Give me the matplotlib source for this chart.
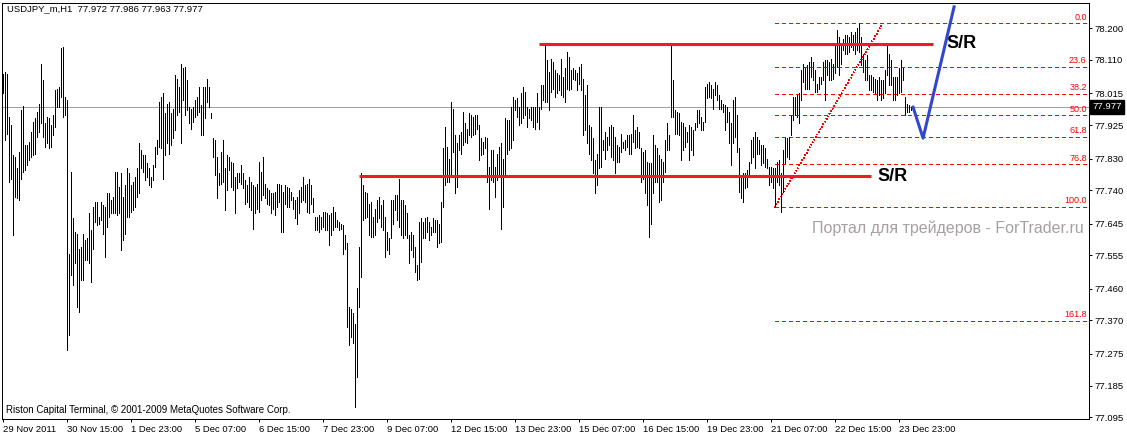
import matplotlib.pyplot as plt
import matplotlib.transforms as mtransforms

plt.rcParams['font.family'] = ['Liberation Sans', 'DejaVu Sans']

# USDJPY_m H1 bars, high / low per bar
highs = [
    78.070, 78.076, 78.070, 77.949, 77.925, 77.840, 77.835, 77.802, 77.849, 77.967,
    77.979, 77.868, 77.868, 77.878, 77.906, 77.934, 77.944, 77.963, 77.986, 78.100,
    78.053, 77.930, 77.949, 77.944, 77.925, 77.953, 78.024, 78.029, 78.034, 78.143,
    78.147, 78.005, 77.996, 77.560, 77.792, 77.660, 77.622, 77.617, 77.574, 77.579,
    77.617, 77.598, 77.603, 77.674, 77.627, 77.693, 77.707, 77.707, 77.664, 77.707,
    77.698, 77.693, 77.731, 77.731, 77.712, 77.721, 77.792, 77.792, 77.750, 77.788,
    77.721, 77.754, 77.802, 77.788, 77.754, 77.764, 77.778, 77.802, 77.873, 77.854,
    77.840, 77.840, 77.816, 77.802,
    77.778, 77.811, 77.863, 77.882, 77.991, 78.005, 78.015, 77.958, 77.986, 77.991,
    77.958, 77.972, 78.067, 78.057, 78.034, 78.100, 78.086, 78.091, 78.053, 77.977,
    77.972, 77.977, 77.996, 78.005, 78.034, 77.982, 78.034, 78.034, 78.057, 78.034,
    77.958, 77.887, 77.882, 77.835, 77.788, 77.849, 77.882, 77.802, 77.840, 77.835,
    77.821, 77.816, 77.778, 77.788, 77.788, 77.811, 77.788, 77.769, 77.754, 77.778,
    77.764, 77.754, 77.750, 77.759, 77.821, 77.792, 77.835, 77.759, 77.745, 77.740,
    77.731, 77.731, 77.735, 77.759, 77.759, 77.754, 77.735, 77.754, 77.750, 77.745,
    77.735, 77.721, 77.712, 77.721, 77.740, 77.750, 77.778, 77.754, 77.759, 77.773,
    77.754, 77.717, 77.664, 77.664, 77.669, 77.664, 77.679, 77.679, 77.674, 77.669,
    77.674, 77.693, 77.679, 77.655, 77.650, 77.645, 77.641, 77.612, 77.589, 77.409,
    77.404, 77.390, 77.361, 77.461, 77.579, 77.788, 77.754, 77.735, 77.731, 77.702,
    77.707, 77.664, 77.688, 77.712, 77.721, 77.698, 77.712, 77.664, 77.622, 77.603,
    77.712, 77.712, 77.726, 77.726, 77.773, 77.712, 77.712, 77.698, 77.674, 77.612,
    77.622, 77.612, 77.579, 77.527, 77.650, 77.660, 77.650, 77.660, 77.664, 77.650,
    77.636, 77.660, 77.655, 77.655, 77.645, 77.707, 77.859, 77.920, 77.863, 77.830,
    77.991, 77.972, 77.896, 77.873, 77.896,
    77.906, 77.963, 77.930, 77.915, 77.958, 77.953, 77.949, 77.953, 77.953, 77.925,
    77.887, 77.878, 77.892, 77.887, 77.807, 77.854, 77.854, 77.807, 77.844, 77.863,
    77.873, 77.830, 77.944, 77.939, 77.939, 77.977, 78.005, 77.996, 78.001, 77.977,
    78.015, 78.034, 78.020, 77.977, 77.972, 77.977, 77.977, 77.977, 78.015, 77.977,
    78.039, 78.039, 78.152, 78.110, 78.076, 78.114, 78.105, 78.081, 78.072, 78.067,
    78.114, 78.062, 78.086, 78.133, 78.119, 78.081, 78.086, 78.081, 78.072, 78.091,
    78.100, 78.057, 78.010, 78.039, 77.925, 77.920, 77.887, 77.825, 77.844, 77.977,
    77.977, 77.882, 77.906, 77.892, 77.920,
    77.925, 77.920, 77.892, 77.868, 77.863, 77.901, 77.878, 77.882, 77.896, 77.896,
    77.901, 77.953, 77.911, 77.920, 77.906, 77.859, 77.849, 77.854, 77.821, 77.816,
    77.816, 77.896, 77.868, 77.859, 77.840, 77.830, 77.821, 77.882, 77.930, 77.896,
    78.152, 78.053, 77.967, 77.963, 77.958, 77.934, 77.930, 77.920, 77.906, 77.925,
    77.920, 77.911, 77.930, 77.967, 77.967, 77.949, 77.934, 78.034, 78.043, 78.048,
    78.039, 78.029, 78.048, 78.039, 78.010, 77.996, 77.986, 77.982, 77.977, 77.963,
    77.930, 77.996, 78.005, 77.953, 77.859, 77.783, 77.788, 77.788, 77.797, 77.821,
    77.882, 77.892, 77.906, 77.892, 77.882,
    77.868, 77.868, 77.859, 77.830, 77.807, 77.807, 77.802, 77.802, 77.821, 77.825,
    77.788, 77.854, 77.887, 77.887, 77.892, 77.953, 78.005, 78.005, 78.010, 78.015,
    78.081, 78.100, 78.086, 78.095, 78.105, 78.119, 78.105, 78.081, 78.043, 78.062,
    78.062, 78.105, 78.110, 78.110, 78.105, 78.114, 78.100, 78.157, 78.195, 78.176,
    78.157, 78.171, 78.181, 78.181, 78.176, 78.190, 78.181, 78.190, 78.200, 78.214,
    78.176, 78.124, 78.110, 78.124, 78.067, 78.067, 78.062, 78.057, 78.053, 78.062,
    78.053, 78.053, 78.081, 78.152, 78.128, 78.110, 78.062, 78.062, 78.062, 78.086,
    78.110, 78.086, 78.005, 77.986, 77.982, 77.977,
]
lows = [
    78.015, 77.882, 77.901, 77.764, 77.773, 77.612, 77.721, 77.717, 77.712, 77.773,
    77.792, 77.797, 77.811, 77.825, 77.835, 77.840, 77.844, 77.892, 77.906, 77.930,
    77.892, 77.863, 77.873, 77.859, 77.863, 77.896, 77.920, 77.977, 77.977, 78.005,
    77.949, 77.953, 77.286, 77.328, 77.499, 77.470, 77.532, 77.409, 77.395, 77.485,
    77.485, 77.541, 77.541, 77.532, 77.480, 77.574, 77.650, 77.641, 77.645, 77.655,
    77.617, 77.551, 77.636, 77.664, 77.674, 77.674, 77.674, 77.669, 77.674, 77.570,
    77.598, 77.617, 77.664, 77.664, 77.679, 77.683, 77.693, 77.721, 77.731, 77.802,
    77.792, 77.769, 77.778, 77.754,
    77.750, 77.769, 77.807, 77.844, 77.863, 77.859, 77.773, 77.840, 77.873, 77.844,
    77.868, 77.887, 77.911, 77.953, 77.963, 77.873, 77.996, 77.953, 77.967, 77.930,
    77.915, 77.934, 77.949, 77.953, 77.963, 77.896, 77.896, 77.944, 77.991, 77.977,
    77.944, 77.835, 77.783, 77.717, 77.754, 77.759, 77.764, 77.683, 77.740, 77.797,
    77.750, 77.740, 77.674, 77.745, 77.764, 77.759, 77.745, 77.702, 77.707, 77.693,
    77.683, 77.631, 77.674, 77.688, 77.679, 77.712, 77.726, 77.717, 77.702, 77.698,
    77.674, 77.688, 77.669, 77.693, 77.707, 77.622, 77.622, 77.702, 77.693, 77.693,
    77.712, 77.688, 77.660, 77.645, 77.674, 77.707, 77.712, 77.707, 77.679, 77.674,
    77.702, 77.679, 77.627, 77.627, 77.622, 77.631, 77.636, 77.627, 77.627, 77.584,
    77.612, 77.627, 77.636, 77.636, 77.627, 77.631, 77.560, 77.574, 77.352, 77.300,
    77.324, 77.305, 77.125, 77.210, 77.409, 77.494, 77.655, 77.660, 77.664, 77.612,
    77.608, 77.608, 77.612, 77.650, 77.660, 77.636, 77.627, 77.551, 77.570, 77.560,
    77.603, 77.645, 77.683, 77.655, 77.636, 77.612, 77.603, 77.612, 77.603, 77.532,
    77.570, 77.551, 77.508, 77.485, 77.489, 77.537, 77.603, 77.603, 77.622, 77.598,
    77.612, 77.622, 77.622, 77.579, 77.589, 77.593, 77.693, 77.754, 77.764, 77.764,
    77.778, 77.849, 77.731, 77.750, 77.854,
    77.844, 77.868, 77.878, 77.873, 77.896, 77.892, 77.896, 77.901, 77.915, 77.825,
    77.840, 77.844, 77.859, 77.764, 77.688, 77.769, 77.764, 77.721, 77.769, 77.783,
    77.631, 77.693, 77.778, 77.844, 77.854, 77.859, 77.882, 77.967, 77.949, 77.925,
    77.930, 77.944, 77.953, 77.920, 77.944, 77.939, 77.920, 77.915, 77.934, 77.915,
    77.972, 77.996, 77.991, 77.991, 77.967, 78.020, 78.029, 78.005, 78.015, 78.024,
    78.010, 78.005, 77.991, 78.029, 78.024, 78.029, 78.057, 78.053, 78.024, 78.043,
    78.024, 77.896, 77.911, 77.873, 77.844, 77.825, 77.788, 77.731, 77.754, 77.802,
    77.807, 77.854, 77.830, 77.854, 77.868,
    77.835, 77.825, 77.788, 77.821, 77.821, 77.849, 77.859, 77.854, 77.863, 77.844,
    77.844, 77.878, 77.859, 77.863, 77.859, 77.764, 77.773, 77.731, 77.698, 77.608,
    77.645, 77.731, 77.764, 77.764, 77.707, 77.712, 77.764, 77.792, 77.854, 77.854,
    77.949, 77.949, 77.901, 77.901, 77.896, 77.825, 77.854, 77.863, 77.878, 77.825,
    77.854, 77.840, 77.911, 77.920, 77.930, 77.911, 77.911, 77.934, 78.001, 78.005,
    78.001, 77.972, 78.010, 77.996, 77.972, 77.972, 77.963, 77.911, 77.934, 77.873,
    77.811, 77.873, 77.892, 77.849, 77.735, 77.717, 77.707, 77.745, 77.750, 77.778,
    77.816, 77.835, 77.802, 77.844, 77.844,
    77.811, 77.816, 77.807, 77.802, 77.754, 77.764, 77.745, 77.693, 77.764, 77.754,
    77.679, 77.735, 77.816, 77.835, 77.830, 77.896, 77.939, 77.953, 77.949, 77.930,
    77.996, 78.048, 78.029, 78.029, 78.029, 78.062, 78.053, 78.020, 78.020, 78.029,
    78.043, 78.053, 77.996, 78.067, 78.053, 78.053, 78.057, 78.072, 78.091, 78.067,
    78.100, 78.138, 78.128, 78.128, 78.133, 78.147, 78.138, 78.128, 78.138, 78.133,
    78.095, 78.076, 78.053, 78.053, 78.024, 78.024, 78.020, 78.015, 77.996, 78.010,
    77.996, 78.001, 78.015, 78.067, 78.039, 78.039, 77.996, 77.996, 78.010, 78.015,
    78.020, 78.053, 77.953, 77.963, 77.963, 77.967,
]

time_labels = ["29 Nov 2011", "30 Nov 15:00", "1 Dec 23:00", "5 Dec 07:00", "6 Dec 15:00",
               "7 Dec 23:00", "9 Dec 07:00", "12 Dec 15:00", "13 Dec 23:00", "15 Dec 07:00",
               "16 Dec 15:00", "19 Dec 23:00", "21 Dec 07:00", "22 Dec 15:00", "23 Dec 23:00"]
bars_per_label = 32

price_ticks = [78.200, 78.110, 78.015, 77.925, 77.830, 77.740, 77.645,
               77.555, 77.460, 77.370, 77.275, 77.185, 77.095]

fib_levels = [0.0, 23.6, 38.2, 50.0, 61.8, 76.8, 100.0, 161.8]
fib_high, fib_low = 78.214, 77.692
fib_low_bar, fib_high_bar = 386, 440

sr_upper, sr_upper_bars = 78.155, (268, 465)
sr_lower, sr_lower_bars = 77.780, (178, 434)

forecast_bars = [455.2, 460.2, 475.7]
forecast_prices = [77.976, 77.888, 78.261]

last_price = 77.977
ohlc_text = "USDJPY_m,H1  77.972 77.986 77.963 77.977"

W, H = 1127, 436
fig = plt.figure(figsize=(W / 100, H / 100), dpi=100)
ax = fig.add_axes([2 / W, 17 / H, 1087 / W, 416 / H])
ax.set_xlim(-0.335, 543.165)
ax.set_ylim(77.0901, 78.2719)

px = 0.72  # one pixel in points

ax.axhline(last_price, color='#a0a0a0', lw=px, ls=(0, (1, 1)), zorder=1, antialiased=False)

xs = list(range(len(highs)))
ax.vlines(xs, lows, highs, colors='black', lw=px, antialiased=False, zorder=3)

# fibonacci retracement
rng = fib_high - fib_low
for lvl in fib_levels:
    p = fib_high - lvl / 100 * rng
    ax.hlines(p, fib_low_bar, 543.165, colors='#ff0000', lw=px, linestyles=(0, (4, 3)),
              zorder=2, antialiased=False)
    ax.annotate(f"{lvl:.1f}", (542.0, p), xytext=(0, 1.2), textcoords='offset points',
                ha='right', va='bottom', color='#ff0000', fontsize=6.5)
ax.plot([fib_low_bar, fib_high_bar], [fib_low, fib_high], color='#ff0000', lw=px,
        ls=(0, (1, 2.5)), zorder=2, antialiased=False)

# support / resistance
ax.hlines(sr_upper, *sr_upper_bars, colors='#ee1c24', lw=2.2, zorder=4)
ax.hlines(sr_lower, *sr_lower_bars, colors='#ee1c24', lw=2.2, zorder=4)
ax.text(472, 78.158, "S/R", fontsize=13, fontweight='bold', va='center', ha='left', zorder=5)
ax.text(437.5, 77.780, "S/R", fontsize=13, fontweight='bold', va='center', ha='left', zorder=5)

ax.plot(forecast_bars, forecast_prices, color='#3347cc', lw=2.2, zorder=5)

ax.text(540.7, 77.633, "Портал для трейдеров - ForTrader.ru", color='#a8a0a0',
        fontsize=11.5, ha='right', va='center', zorder=1)

# axes styling
for s in ax.spines.values():
    s.set_linewidth(px)
ax.yaxis.tick_right()
ax.set_yticks(price_ticks)
ax.set_yticklabels([f"{v:.3f}" for v in price_ticks])
ax.set_xticks([i * bars_per_label for i in range(len(time_labels))])
ax.set_xticklabels(time_labels, ha='left')
ax.tick_params(axis='both', length=2.5, width=px, pad=1.5, labelsize=6.8, direction='out')

trans = mtransforms.blended_transform_factory(ax.transAxes, ax.transData)
ax.text(1.0 + 3 / 1087, last_price, f"{last_price:.3f}", transform=trans, color='white',
        fontsize=6.8, ha='left', va='center',
        bbox=dict(boxstyle='square,pad=0.25', fc='black', ec='black'))

fig.text(7 / W, 1 - 9 / H, ohlc_text, fontsize=6.8, va='center', ha='left')
fig.text(6 / W, 1 - 410 / H, "Riston Capital Terminal, \u00a9 2001-2009 MetaQuotes Software Corp.",
         fontsize=7, va='center', ha='left')

fig.savefig("out.png", dpi=100, facecolor='white')
